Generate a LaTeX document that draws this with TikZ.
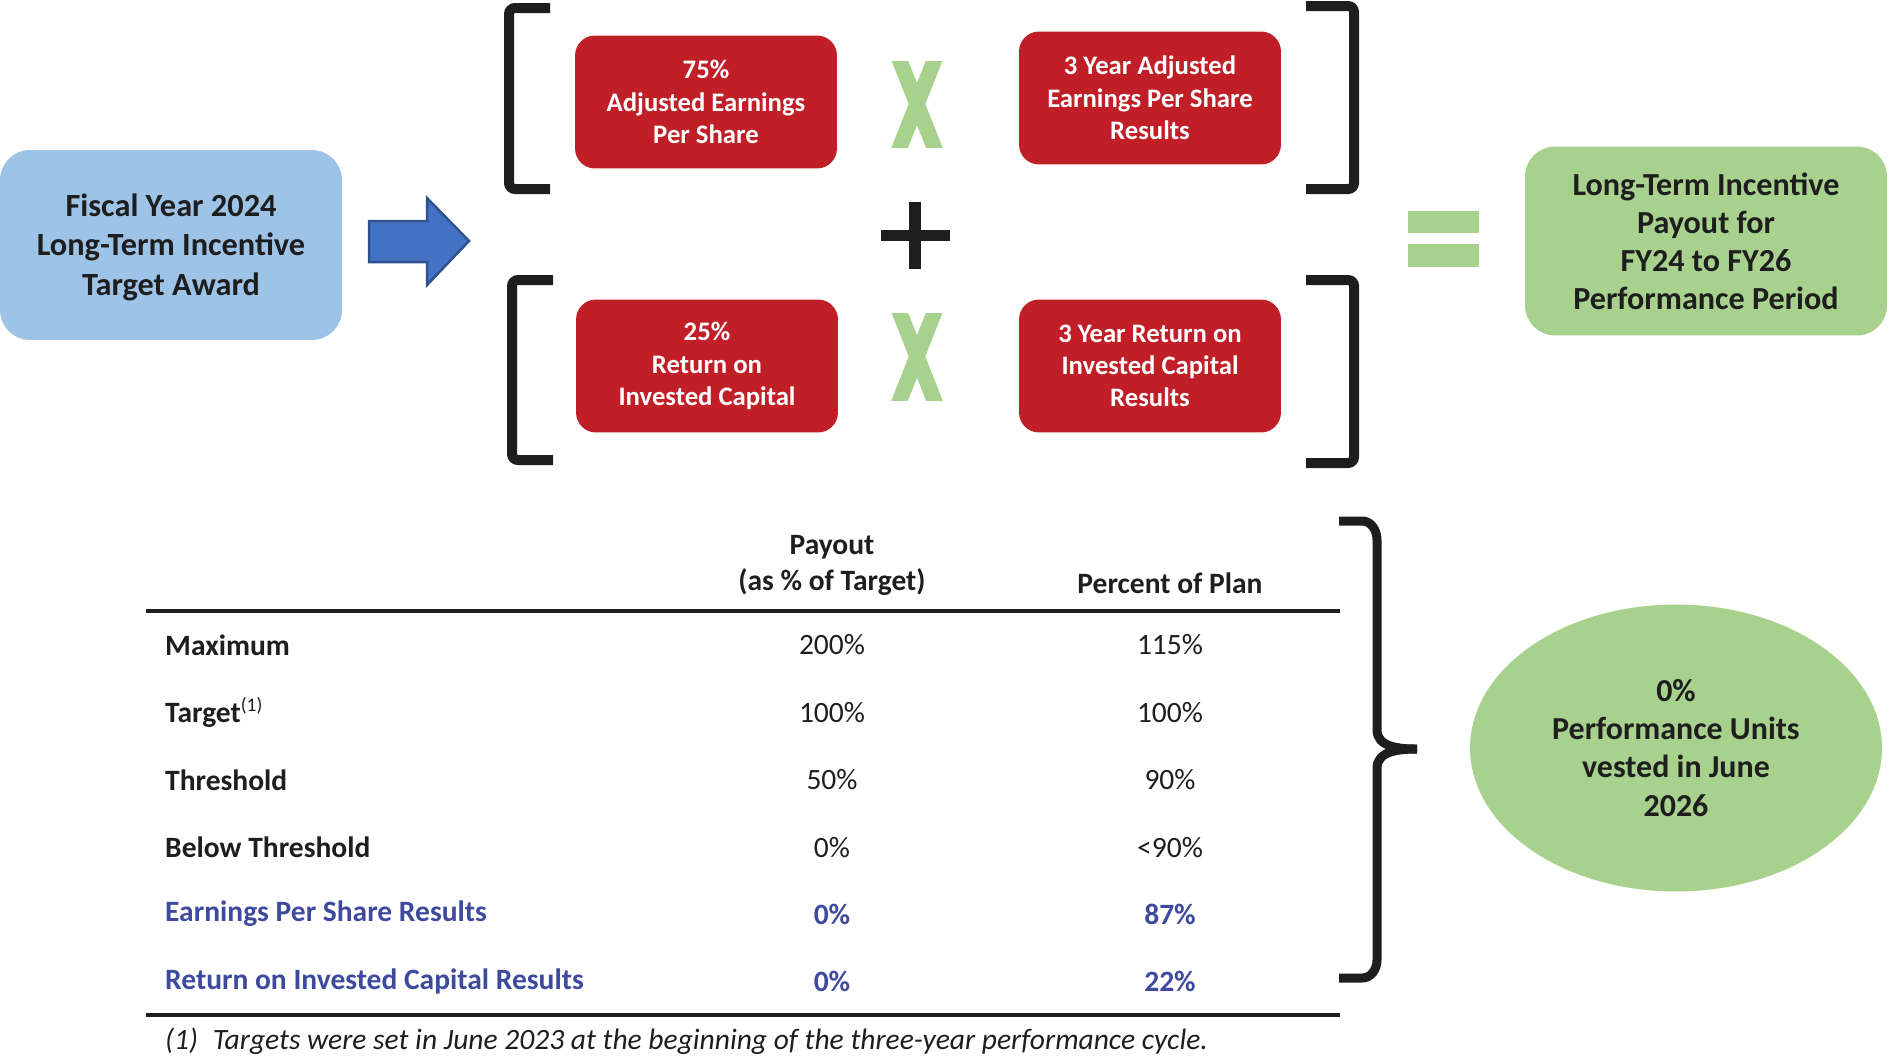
\documentclass[tikz,border=0pt]{standalone}
\usepackage{fontspec}
\setmainfont{Carlito}
\usepackage{xcolor}
\usepackage{tikz}
\usetikzlibrary{arrows.meta, positioning, calc, shapes.geometric}
\definecolor{awardblue}{HTML}{9DC3E6}
\definecolor{arrowblue}{HTML}{4472C4}
\definecolor{arrowedge}{HTML}{2F528F}
\definecolor{boxred}{HTML}{C11F27}
\definecolor{okgreen}{HTML}{A9D18E}
\definecolor{rowblue}{HTML}{3D4A9E}
\definecolor{ink}{HTML}{1E1E1E}

\begin{document}
\begin{tikzpicture}[x=0.02cm,y=-0.02cm,
  bigbox/.style={rounded corners=0.6cm, text=ink, align=center,
    font=\fontsize{18.4}{22.3}\selectfont\bfseries},
  redbox/.style={rounded corners=0.4cm, fill=boxred, text=white, align=center,
    font=\fontsize{15.2}{18.4}\selectfont\bfseries,
    minimum width=5.24cm, minimum height=2.66cm},
  bracket/.style={ink, line width=0.2cm, rounded corners=0.12cm},
  brace/.style={ink, line width=0.18cm},
  xmark/.style={okgreen, line width=0.31cm},
  cell/.style={text=ink, font=\fontsize{16.8}{20.4}\selectfont},
  head/.style={cell, align=center, font=\fontsize{16.8}{20.4}\selectfont\bfseries},
  rowname/.style={head, anchor=west},
  result/.style={text=rowblue, font=\fontsize{16.8}{20.4}\selectfont\bfseries},
  rule/.style={ink, line width=0.08cm}]
  \useasboundingbox (0,0) rectangle (1889,1059);

  \node[bigbox, fill=awardblue, minimum width=6.84cm, minimum height=3.8cm]
    (award) at (171,245) {\strut Fiscal Year 2024\\Long-Term Incentive\\Target Award};
  \filldraw[fill=arrowblue, draw=arrowedge, line width=0.05cm]
    (369,221) -- (427,221) -- (427,198) -- (469,241) -- (427,285)
    -- (427,262) -- (369,262) -- cycle;

  \node[redbox] (epsw) at (706,102) {75\%\\Adjusted Earnings\\Per Share};
  \node[redbox] (epsres) at (1150,98) {3 Year Adjusted\\Earnings Per Share\\Results};
  \node[redbox] (roicw) at (707,366) {25\%\\Return on\\Invested Capital};
  \node[redbox] (roicres) at (1150,366) {3 Year Return on\\Invested Capital\\Results};

  \draw[bracket] (550,8) -- (509,8) -- (509,189) -- (550,189);
  \draw[bracket] (553,280) -- (512,280) -- (512,460) -- (553,460);
  \draw[bracket] (1306,6) -- (1354,6) -- (1354,189) -- (1306,189);
  \draw[bracket] (1306,280) -- (1354,280) -- (1354,463) -- (1306,463);

  \begin{scope}
    \clip (891,61) rectangle (943,147);
    \draw[xmark] (896,51) -- (938,157);
    \draw[xmark] (938,51) -- (896,157);
  \end{scope}
  \begin{scope}
    \clip (891,313) rectangle (943,400);
    \draw[xmark] (896,303) -- (938,410);
    \draw[xmark] (938,303) -- (896,410);
  \end{scope}

  \fill[ink] (881,230) rectangle (950,241);
  \fill[ink] (909,202) rectangle (921,269);
  \fill[okgreen] (1408,211) rectangle (1479,233);
  \fill[okgreen] (1408,244) rectangle (1479,267);

  \node[bigbox, fill=okgreen, minimum width=7.24cm, minimum height=3.78cm,
    font=\fontsize{18.3}{21.7}\selectfont\bfseries]
    (payout) at (1706,241) {Long-Term Incentive\\Payout for\\FY24 to FY26\\Performance Period};

  \node[head] (payhead) at (832,565) {Payout\\(as \% of Target)};
  \node[head] (planhead) at (1170,583) {Percent of Plan};
  \draw[rule] (146,611) -- (1340,611);

  \foreach \lab/\pay/\plan [count=\i from 0] in
    {Maximum/200\%/115\%,
     Target\textsuperscript{\fontsize{11}{11}\selectfont\mdseries(1)}/100\%/100\%,
     Threshold/50\%/90\%, Below Threshold/0\%/<90\%}{
    \node[rowname] (row\i) at (159,{645+67.4*\i}) {\lab};
    \node[cell] (pay\i) at (832,{645+67.4*\i}) {\pay};
    \node[cell] (plan\i) at (1170,{645+67.4*\i}) {\plan};
  }
  \node[rowname, result] (row4) at (159,914) {Earnings Per Share Results};
  \node[result] (pay4) at (832,914) {0\%};
  \node[result] (plan4) at (1170,914) {87\%};
  \node[rowname, result] (row5) at (159,981) {Return on Invested Capital Results};
  \node[result] (pay5) at (832,981) {0\%};
  \node[result] (plan5) at (1170,981) {22\%};
  \draw[rule] (146,1015) -- (1340,1015);

  \node[cell, anchor=west, font=\fontsize{16.8}{18}\selectfont\itshape]
    (note) at (159,1041) {(1)\enspace Targets were set in June 2023 at the beginning of the three-year performance cycle.};

  \draw[brace] (1339,521) -- (1362,521) to[out=0,in=90] (1377,540) -- (1377,730)
    to[out=-90,in=180] (1417,749);
  \draw[brace] (1417,749) to[out=180,in=90] (1377,768) -- (1377,960)
    to[out=-90,in=0] (1362,978) -- (1339,978);

  \node[ellipse, fill=okgreen, text=ink, align=center, inner sep=0pt,
    minimum width=8.24cm, minimum height=5.74cm,
    font=\fontsize{18.2}{21.7}\selectfont\bfseries]
    (units) at (1676,748) {0\%\\Performance Units\\vested in June\\2026};
\end{tikzpicture}
\end{document}
